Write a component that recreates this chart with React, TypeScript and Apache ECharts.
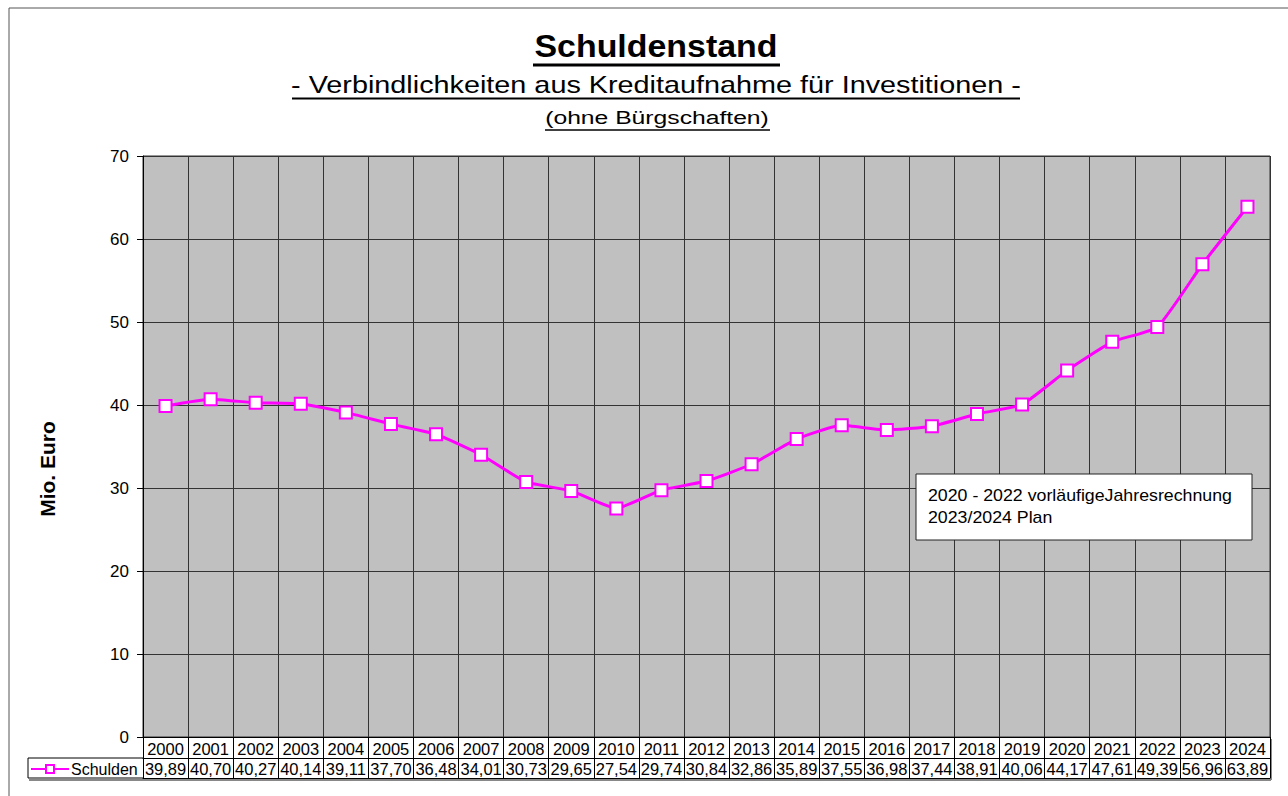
import React, { useEffect, useRef } from "react";
import * as echarts from "echarts";

const years = ["2000","2001","2002","2003","2004","2005","2006","2007","2008","2009","2010","2011","2012","2013","2014","2015","2016","2017","2018","2019","2020","2021","2022","2023","2024"];
const schulden = [39.89,40.70,40.27,40.14,39.11,37.70,36.48,34.01,30.73,29.65,27.54,29.74,30.84,32.86,35.89,37.55,36.98,37.44,38.91,40.06,44.17,47.61,49.39,56.96,63.89];
const yTicks = { min: 0, max: 70, interval: 10 };
const titleText = "Schuldenstand";
const subText = "- Verbindlichkeiten aus Kreditaufnahme für Investitionen -";
const subText2 = "(ohne Bürgschaften)";
const noteLines = ["2020 - 2022 vorläufigeJahresrechnung", "2023/2024 Plan"];
const seriesName = "Schulden";
const yName = "Mio. Euro";

const FONT = "'Liberation Sans', Arial, sans-serif";
const MAGENTA = "#FF00FF";

export default function App() {
  const ref = useRef<HTMLDivElement>(null);
  useEffect(() => {
    if (!ref.current) return;
    const chart = echarts.init(ref.current, null, { renderer: "svg" });
    const valueLabels = schulden.map((v) => v.toFixed(2).replace(".", ","));
    const gl = { left: 143, right: 18, top: 156, bottom: 59 };
    chart.setOption({
      animation: false,
      backgroundColor: "#fff",
      textStyle: { fontFamily: FONT },
      grid: { ...gl, containLabel: false, show: true, backgroundColor: "#C0C0C0", borderColor: "#333", borderWidth: 1 },
      legend: {
        left: 30,
        top: 761,
        itemWidth: 38,
        itemHeight: 10,
        itemGap: 4,
        padding: 0,
        textStyle: { fontSize: 16, color: "#000", fontFamily: FONT, padding: [0, 0, 0, -3] },
        data: [seriesName],
      },
      xAxis: [
        {
          type: "category",
          data: years,
          boundaryGap: true,
          position: "bottom",
          axisLine: { show: true, lineStyle: { color: "#000", width: 1 } },
          axisTick: { show: true, length: 41, lineStyle: { color: "#000", width: 1 } },
          axisLabel: { fontSize: 16.5, color: "#000", margin: 3, interval: 0, fontFamily: FONT },
          splitLine: { show: true, lineStyle: { color: "#333", width: 1 } },
        },
        {
          type: "category",
          data: valueLabels,
          boundaryGap: true,
          position: "bottom",
          offset: 21,
          axisLine: { show: true, lineStyle: { color: "#000", width: 1 } },
          axisTick: { show: false },
          axisLabel: { fontSize: 16.5, color: "#000", margin: 2, interval: 0, fontFamily: FONT },
          splitLine: { show: false },
        },
        {
          type: "category",
          data: years,
          boundaryGap: true,
          position: "bottom",
          offset: 41,
          axisLine: { show: true, lineStyle: { color: "#000", width: 1 } },
          axisTick: { show: false },
          axisLabel: { show: false },
          splitLine: { show: false },
        },
      ],
      yAxis: {
        type: "value",
        min: yTicks.min,
        max: yTicks.max,
        interval: yTicks.interval,
        axisLine: { show: true, lineStyle: { color: "#000" } },
        axisTick: { show: true, length: 6, lineStyle: { color: "#000" } },
        axisLabel: { fontSize: 17, color: "#000", margin: 14, fontFamily: FONT },
        splitLine: { show: true, lineStyle: { color: "#333", width: 1 } },
      },
      series: [
        {
          name: seriesName,
          type: "line",
          data: schulden,
          smooth: 0.15,
          symbol: "rect",
          symbolSize: 12,
          showAllSymbol: true,
          lineStyle: { color: MAGENTA, width: 3 },
          itemStyle: { color: "#fff", borderColor: MAGENTA, borderWidth: 2 },
          z: 5,
        },
      ],
      graphic: [
        { type: "rect", shape: { x: 9, y: 8, width: 1300, height: 800 }, style: { fill: "none", stroke: "#555", lineWidth: 1 }, silent: true },
        { type: "text", x: 656, y: 30, scaleX: 1.06, style: { text: titleText, fontSize: 32, fontWeight: "bold", fontFamily: FONT, fill: "#000", align: "center", verticalAlign: "top" } },
        { type: "line", shape: { x1: 533, y1: 65, x2: 780, y2: 65 }, style: { stroke: "#000", lineWidth: 3 } },
        { type: "text", x: 656, y: 73, scaleX: 1.2, style: { text: subText, fontSize: 24, fontFamily: FONT, fill: "#000", align: "center", verticalAlign: "top" } },
        { type: "line", shape: { x1: 292, y1: 98.5, x2: 1020, y2: 98.5 }, style: { stroke: "#000", lineWidth: 2 } },
        { type: "text", x: 657, y: 108, scaleX: 1.3, style: { text: subText2, fontSize: 19, fontFamily: FONT, fill: "#000", align: "center", verticalAlign: "top" } },
        { type: "line", shape: { x1: 545, y1: 130, x2: 770, y2: 130 }, style: { stroke: "#000", lineWidth: 1.5 } },
        { type: "text", x: 47, y: 469, rotation: Math.PI / 2, style: { text: yName, fontSize: 21, fontWeight: "bold", fontFamily: FONT, fill: "#000", align: "center", verticalAlign: "middle" } },
        // legend cell of data table
        { type: "line", shape: { x1: 28, y1: 758, x2: 143, y2: 758 }, style: { stroke: "#000", lineWidth: 1 } },
        { type: "line", shape: { x1: 28, y1: 778, x2: 143, y2: 778 }, style: { stroke: "#000", lineWidth: 1 } },
        { type: "line", shape: { x1: 28, y1: 758, x2: 28, y2: 778 }, style: { stroke: "#000", lineWidth: 1 } },
        { type: "line", shape: { x1: 29, y1: 780, x2: 1271, y2: 780 }, style: { stroke: "#888", lineWidth: 2 } },
        { type: "line", shape: { x1: 1271, y1: 739, x2: 1271, y2: 780 }, style: { stroke: "#888", lineWidth: 2 } },
        // note box
        { type: "rect", shape: { x: 916, y: 474, width: 336, height: 66 }, style: { fill: "#fff", stroke: "#222", lineWidth: 1 }, z: 10 },
        { type: "text", x: 928, y: 485, scaleX: 1.11, z: 11, style: { text: noteLines.join("\n"), fontSize: 16, lineHeight: 22, fontFamily: FONT, fill: "#000", align: "left", verticalAlign: "top" } },
      ],
    });
    return () => chart.dispose();
  }, []);
  return <div ref={ref} style={{ position: "absolute", left: 0, top: 0, width: 1288, height: 796 }} />;
}
